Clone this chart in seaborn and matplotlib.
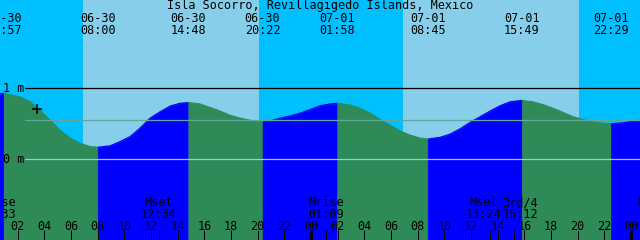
import numpy as np
import pandas as pd
import matplotlib
matplotlib.use("Agg")
import matplotlib.pyplot as plt
import seaborn as sns

# ---------------- data ----------------
title = "Isla Socorro, Revillagigedo Islands, Mexico"

# tide extremes: "MM-DD HH:MM", kind, height (m)
extreme_labels = ["06-30 00:57", "06-30 08:00", "06-30 14:48", "06-30 20:22",
                  "07-01 01:58", "07-01 08:45", "07-01 15:49", "07-01 22:29"]
extreme_kind = ["H", "L", "H", "L", "H", "L", "H", "L"]
extreme_m = [0.93, 0.17, 0.80, 0.53, 0.79, 0.285, 0.83, 0.50]

# tide height (hours since 06-30 00:00, metres)
sample_hours = [0.0, 2.18, 2.93, 3.68, 4.43, 5.18, 5.93, 6.68, 7.43,
                8.93, 9.68, 10.43, 11.18, 11.93, 12.68, 13.43, 14.18,
                15.68, 16.43, 17.18, 17.93, 18.68, 19.43, 20.18,
                20.93, 21.68, 22.43, 23.18, 23.93, 24.68, 25.43,
                26.93, 27.68, 28.43, 29.18, 29.93, 30.68, 31.43, 32.18,
                33.68, 34.43, 35.18, 35.93, 36.68, 37.43, 38.18, 38.93,
                40.65, 41.40, 42.15, 42.90, 43.65, 44.40, 45.15, 45.90,
                47.40, 48.70]
sample_m = [0.90, 0.88, 0.81, 0.69, 0.55, 0.41, 0.30, 0.225, 0.18,
            0.19, 0.25, 0.32, 0.44, 0.58, 0.67, 0.75, 0.79,
            0.78, 0.73, 0.68, 0.62, 0.58, 0.55, 0.535,
            0.54, 0.58, 0.61, 0.65, 0.70, 0.755, 0.78,
            0.765, 0.72, 0.65, 0.56, 0.48, 0.40, 0.34, 0.30,
            0.31, 0.355, 0.43, 0.52, 0.60, 0.68, 0.755, 0.81,
            0.81, 0.77, 0.72, 0.66, 0.60, 0.56, 0.525, 0.51,
            0.515, 0.55]

# sun events (day / night background)
sun_labels = ["06-30 06:54", "06-30 20:06", "07-01 06:53", "07-01 20:06"]
sun_kind = ["rise", "set", "rise", "set"]

# moon events (bottom labels)
moon_labels = ["06-30 00:33", "06-30 12:34", "07-01 01:09",
               "07-01 13:24", "07-01 15:12", "07-02 01:51"]
moon_names = ["Mrise", "Mset", "Mrise", "Mset", "3rd/4", "Mrise"]

# mean sea level and current-time mark
msl_m = 0.553
now_label = "06-30 03:27"
now_m = 0.71

day_offset = {"06-30": 0, "07-01": 24, "07-02": 48}


def to_hours(s):
    d, hm = s.split()
    h, m = hm.split(":")
    return day_offset[d] + int(h) + int(m) / 60.0


extreme_hours = [to_hours(s) for s in extreme_labels]
sun_hours = [to_hours(s) for s in sun_labels]
moon_hours = [to_hours(s) for s in moon_labels]

# ---------------- figure ----------------
sns.set_theme(style="white")
plt.rcParams["font.family"] = ["DejaVu Sans Mono"]
plt.rcParams["text.color"] = "black"
FS = 8.5
W, H = 640, 240

fig = plt.figure(figsize=(6.4, 2.4), dpi=100)
ax = fig.add_axes([0, 0, 1, 1])
X0, X1 = 0.675, 48.675
Y0, Y1 = -1.137, 2.244
for sp in ax.spines.values():
    sp.set_visible(False)

SKY_DAY = "#87CEEB"
SKY_NIGHT = "#00BFFF"
RISE = "#0000FF"
FALL = "#2E8B57"
ax.set_facecolor(SKY_DAY)

# night bands
edges = [X0 - 1] + sun_hours + [X1 + 1]
for i in range(len(edges) - 1):
    night = (i < len(sun_kind) and sun_kind[i] == "rise") or (i == len(sun_kind) and sun_kind[-1] == "set")
    if night:
        ax.axvspan(edges[i], edges[i + 1], color=SKY_NIGHT, lw=0, zorder=0)

# tide curve
df = pd.DataFrame({"hour": sample_hours + extreme_hours,
                   "m": sample_m + extreme_m}).sort_values("hour").reset_index(drop=True)
bounds = [df.hour.min()] + extreme_hours + [df.hour.max()]
parts = []
for i in range(len(bounds) - 1):
    b0, b1 = bounds[i], bounds[i + 1]
    part = df[(df.hour >= b0 - 1e-9) & (df.hour <= b1 + 1e-9)].copy()
    if i < len(extreme_kind):
        direction = "rise" if extreme_kind[i] == "H" else "fall"
    else:
        direction = "rise" if extreme_kind[-1] == "L" else "fall"
    part["dir"] = direction
    part["seg"] = i
    parts.append(part)
    col = RISE if direction == "rise" else FALL
    ax.fill_between(part.hour, part.m, Y0, color=col, lw=0.4, edgecolor=col, zorder=1)
seg_df = pd.concat(parts, ignore_index=True)
sns.lineplot(data=seg_df, x="hour", y="m", hue="dir", units="seg", estimator=None,
             palette={"rise": RISE, "fall": FALL}, legend=False, lw=0.8, ax=ax, zorder=1.5)
ax.set_xlabel("")
ax.set_ylabel("")

# reference lines
xm = 25 / W
ax.axhline(1.0, xmin=xm, color="black", lw=0.9, zorder=2)
ax.axhline(msl_m, xmin=xm, color="#5FA8A0", lw=0.9, zorder=2)
ax.axhline(0.0, xmin=xm, color="#8CCFF0", lw=0.9, zorder=2)

# current time mark
ax.plot([to_hours(now_label)], [now_m], marker="+", ms=7, mew=1.1, color="black", zorder=3)

# text helpers
xtr = ax.get_xaxis_transform()


def yf(px):
    return 1 - px / H


ax.text(0.5, yf(9.5), title, transform=ax.transAxes, ha="center", va="baseline",
        fontsize=FS, color="black")
for lab, h in zip(extreme_labels, extreme_hours):
    d, hm = lab.split()
    ax.text(h, yf(21.8), d, transform=xtr, ha="center", va="baseline", fontsize=FS, color="black")
    ax.text(h, yf(34), hm, transform=xtr, ha="center", va="baseline", fontsize=FS, color="black")

ax.text(2.7 / W, yf(91.7), "1 m", transform=ax.transAxes, ha="left", va="baseline", fontsize=FS, color="black")
ax.text(2.7 / W, yf(163.3), "0 m", transform=ax.transAxes, ha="left", va="baseline", fontsize=FS, color="black")

# moon labels (overlapping pair pushed apart as in the original)
nudge_h = {3: -0.47, 4: 0.51}
for i, (name, lab, h) in enumerate(zip(moon_names, moon_labels, moon_hours)):
    hx = h + nudge_h.get(i, 0.0)
    ax.text(hx, yf(206), name, transform=xtr, ha="center", va="baseline", fontsize=FS,
            color="black", zorder=4)
    ax.text(hx, yf(218.3), lab.split()[1], transform=xtr, ha="center", va="baseline",
            fontsize=FS, color="black", zorder=4)

# time ticks (drawn above the water fill)
ax.set_axisbelow(False)
ticks = list(range(2, 49, 2))
ax.set_xticks(ticks, [f"{t % 24:02d}" for t in ticks], va="baseline")
ax.set_xticks(moon_hours, minor=True)
ax.tick_params(axis="x", which="both", direction="in", length=7.2, width=0.72,
               color="black", bottom=True, top=False)
ax.tick_params(axis="x", which="major", pad=-7.3, labelsize=FS, labelcolor="black")
ax.tick_params(axis="y", left=False, labelleft=False)
for t, tk in zip(ticks, ax.xaxis.get_major_ticks()):
    if t % 24 == 0:
        tk.tick1line.set_markeredgewidth(2.2)

ax.set_xlim(X0, X1)
ax.set_ylim(Y0, Y1)

fig.savefig("out.png", dpi=100)
